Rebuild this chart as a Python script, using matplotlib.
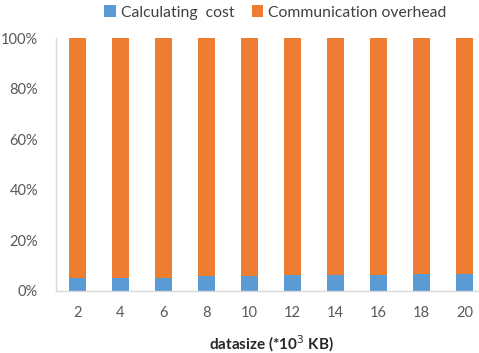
import matplotlib
matplotlib.use("Agg")
import matplotlib.pyplot as plt
import numpy as np

plt.rcParams['font.family'] = ['Lato', 'DejaVu Sans']

categories = ["2", "4", "6", "8", "10", "12", "14", "16", "18", "20"]
calc_cost = [5.0, 5.1, 5.2, 5.8, 5.9, 6.1, 6.1, 6.3, 6.6, 6.7]
comm_overhead = [100 - v for v in calc_cost]
y_ticks = [0, 20, 40, 60, 80, 100]

blue = "#5B9BD5"
orange = "#ED7D31"

W, H = 479, 353
fig = plt.figure(figsize=(W / 100, H / 100), dpi=100)
left, right, top, bottom = 56, 486, 38.3, 290.7
ax = fig.add_axes([left / W, 1 - bottom / H, (right - left) / W, (bottom - top) / H])

x = np.arange(len(categories))
ax.bar(x, calc_cost, width=0.39, color=blue, label="Calculating  cost")
ax.bar(x, comm_overhead, width=0.39, bottom=calc_cost, color=orange,
       label="Communication overhead")

ax.set_xlim(-0.5, len(categories) - 0.5)
ax.set_ylim(0, 100)
ax.set_xticks(x)
ax.set_xticklabels(categories)
ax.set_yticks(y_ticks)
ax.set_yticklabels([f"{t}%" for t in y_ticks])

for s in ["top", "right"]:
    ax.spines[s].set_visible(False)
for s in ["left", "bottom"]:
    ax.spines[s].set_color("#D9D9D9")
    ax.spines[s].set_linewidth(1.0)

ax.tick_params(axis="y", length=0, pad=13, labelsize=10.5, labelcolor="#595959")
ax.tick_params(axis="x", length=0, pad=11, labelsize=10.5, labelcolor="#595959")

ax.set_xlabel("datasize (*10$^{3}$ KB)", fontsize=11, fontweight="bold",
              color="#262626", labelpad=10)

fig.legend(loc="upper center", bbox_to_anchor=(0.575, 1.025), ncol=2, frameon=False,
           fontsize=11.3, handlelength=0.75, handleheight=0.75, handletextpad=0.3,
           columnspacing=1.1, labelcolor="#404040")

fig.savefig("out.png", dpi=100)
